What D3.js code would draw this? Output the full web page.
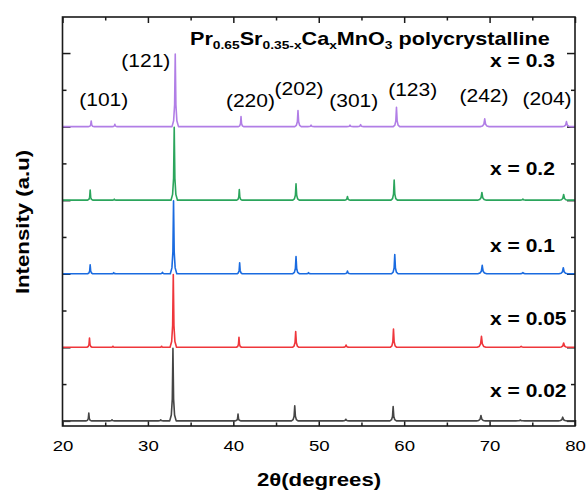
<!DOCTYPE html>
<html><head><meta charset="utf-8">
<script src="https://cdn.jsdelivr.net/npm/d3@7"></script>
<style>
body{margin:0;background:#fff}
svg{display:block}
text{font-family:"Liberation Sans",Arial,Helvetica,sans-serif;fill:#000}
</style>
</head><body>
<svg id="c" width="586" height="491"></svg>
<script>
// ---------- data ----------
const seriesNames  = ["x = 0.02", "x = 0.05", "x = 0.1", "x = 0.2", "x = 0.3"];
const seriesColors = ["#454545", "#ef363b", "#1a6be0", "#2ba55c", "#b17ee6"];
const seriesOffset = [0, 1, 2, 3, 4];

// peak positions (2θ, degrees) and normalised intensities
const peaks002 = [23.08, 25.8, 31.5, 32.93, 40.55, 47.19, 53.17, 58.71, 68.99, 73.6, 78.56];
const inten002 = [0.105, 0.014, 0.014, 0.985, 0.092, 0.205, 0.022, 0.195, 0.073, 0.011, 0.050];
const peaks005 = [23.16, 25.9, 31.6, 32.97, 40.66, 47.30, 53.20, 58.75, 69.05, 73.7, 78.67];
const inten005 = [0.126, 0.014, 0.014, 0.990, 0.136, 0.213, 0.031, 0.249, 0.150, 0.014, 0.058];
const peaks010 = [23.24, 26.0, 31.7, 33.00, 40.74, 47.34, 48.8, 53.36, 58.90, 69.14, 73.9, 78.63];
const inten010 = [0.122, 0.014, 0.020, 0.990, 0.150, 0.235, 0.014, 0.037, 0.262, 0.113, 0.014, 0.082];
const peaks020 = [23.24, 26.06, 33.08, 40.70, 47.34, 53.36, 58.83, 69.10, 73.9, 78.67];
const inten020 = [0.136, 0.014, 0.990, 0.145, 0.221, 0.050, 0.272, 0.105, 0.014, 0.077];
const peaks030 = [23.36, 26.13, 33.20, 40.90, 47.57, 49.1, 53.66, 54.9, 59.10, 69.43, 79.00];
const inten030 = [0.077, 0.031, 0.985, 0.136, 0.217, 0.020, 0.020, 0.027, 0.262, 0.105, 0.068];
const seriesPeaks = [peaks002, peaks005, peaks010, peaks020, peaks030];
const seriesInten = [inten002, inten005, inten010, inten020, inten030];

const xMajorTicks = [20, 30, 40, 50, 60, 70, 80];
const xMinorTicks = [25, 35, 45, 55, 65, 75];
const yMajorTicks = [0, 1, 2, 3, 4, 5];
const yMinorTicks = [0.5, 1.5, 2.5, 3.5, 4.5];

const hklLabels = ["(101)", "(121)", "(220)", "(202)", "(301)", "(123)", "(242)", "(204)"];

// ---------- layout ----------
const W = 586, H = 491;
const plot = {l: 62.5, r: 575, t: 17, b: 426};
const TS = 1.2; // horizontal text stretch of the original font
const hklPos = [[24.83, 4.28], [29.76, 4.81], [42.0, 4.266], [47.7, 4.43], [54.1, 4.27], [61.0, 4.41], [69.35, 4.33], [76.73, 4.30]];
const namePos = [[70.06, 0.326], [70.06, 1.304], [70.06, 2.296], [70.06, 3.342], [70.06, 4.81]];
// peak profile template (relative half-width, relative height)
const profX = [-1, -0.5, -0.2, -0.07, 0, 0.07, 0.2, 0.5, 1];
const profY = [0, 0.08, 0.3, 0.75, 1, 0.75, 0.3, 0.08, 0];

const svg = d3.select("#c");
const x = d3.scaleLinear().domain([20, 80]).range([plot.l, plot.r]);
const y = d3.scaleLinear().domain([-0.07, 5.49]).range([plot.b, plot.t]);

// ---------- axes ----------
function ax(gen, tr, vals, size, labels) {
  const g = svg.append("g").attr("transform", tr)
    .call(gen.tickValues(vals).tickSize(size).tickPadding(10)
      .tickFormat(labels ? d3.format("d") : () => ""));
  g.select(".domain").remove();
  g.selectAll("line").attr("stroke", "#1a1a1a").attr("stroke-width", 1.5);
  return g;
}
const xb = ax(d3.axisBottom(x), `translate(0,${plot.b})`, xMajorTicks, -6, true);
ax(d3.axisBottom(x), `translate(0,${plot.b})`, xMinorTicks, -3.5, false);
ax(d3.axisTop(x), `translate(0,${plot.t})`, xMajorTicks, -6, false);
ax(d3.axisTop(x), `translate(0,${plot.t})`, xMinorTicks, -3.5, false);
ax(d3.axisLeft(y), `translate(${plot.l},0)`, yMajorTicks, -8, false);
ax(d3.axisLeft(y), `translate(${plot.l},0)`, yMinorTicks, -4, false);
ax(d3.axisRight(y), `translate(${plot.r},0)`, yMajorTicks, -8, false);
ax(d3.axisRight(y), `translate(${plot.r},0)`, yMinorTicks, -4, false);

xb.selectAll("text").attr("font-size", 15.5).attr("fill", "#000")
  .attr("font-family", '"Liberation Sans",Arial,sans-serif')
  .attr("y", null).attr("dy", null)
  .attr("transform", `translate(0,25) scale(${TS},1)`);

// ---------- series ----------
const line = d3.line().x(d => x(d[0])).y(d => y(d[1]));
seriesNames.forEach((name, i) => {
  const base = seriesOffset[i];
  const pts = [[20, base]];
  seriesPeaks[i].forEach((p, k) => {
    const h = seriesInten[i][k];
    const hw = h > 0.5 ? 0.38 : (p < 45 ? 0.3 : p < 65 ? 0.38 : 0.52);
    profX.forEach((fx, j) => pts.push([p + fx * hw, base + profY[j] * h]));
  });
  pts.push([80, base]);
  svg.append("path").attr("d", line(pts)).attr("fill", "none")
    .attr("stroke", seriesColors[i]).attr("stroke-width", 1.6)
    .attr("stroke-linejoin", "round");
});

// frame
svg.append("rect").attr("x", plot.l).attr("y", plot.t)
  .attr("width", plot.r - plot.l).attr("height", plot.b - plot.t)
  .attr("fill", "none").attr("stroke", "#1a1a1a").attr("stroke-width", 1.6);

// ---------- text ----------
function txt(px, py, s, size, weight, anchor) {
  return svg.append("text")
    .attr("transform", `translate(${px},${py}) scale(${TS},1)`)
    .attr("font-size", size).attr("font-weight", weight)
    .attr("text-anchor", anchor || "start").text(s);
}
hklLabels.forEach((s, i) => txt(x(hklPos[i][0]), y(hklPos[i][1]), s, 17.5, "normal", "middle"));
seriesNames.forEach((s, i) => txt(x(namePos[i][0]), y(namePos[i][1]), s, 17.5, "bold", "start"));

// title with subscripts
const title = svg.append("text")
  .attr("transform", `translate(190,45) scale(${TS},1)`)
  .attr("font-size", 18).attr("font-weight", "bold");
[["Pr", false], ["0.65", true], ["Sr", false], ["0.35-x", true], ["Ca", false],
 ["x", true], ["MnO", false], ["3", true], [" polycrystalline", false]].forEach(([s, sub], i, arr) => {
  const t = title.append("tspan").text(s);
  if (sub) t.attr("font-size", 11.5).attr("dy", 4);
  else if (i > 0 && arr[i - 1][1]) t.attr("dy", -4);
});

// axis titles
svg.append("text").attr("transform", `translate(319,486) scale(${TS},1)`)
  .attr("font-size", 18.5).attr("font-weight", "bold").attr("text-anchor", "middle")
  .text("2θ(degrees)");
svg.append("text").attr("transform", `translate(29,222) rotate(-90) scale(${TS},1)`)
  .attr("font-size", 18.5).attr("font-weight", "bold").attr("text-anchor", "middle")
  .text("Intensity (a.u)");
</script>
</body></html>
